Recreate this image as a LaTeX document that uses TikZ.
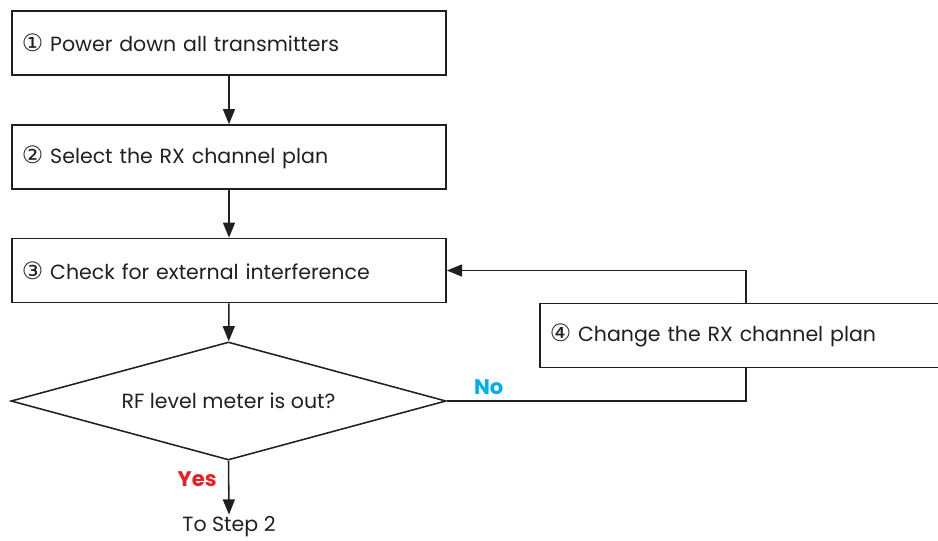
\documentclass[tikz,border=0pt]{standalone}
\usepackage{fontspec}
\setmainfont{Poppins}
\newfontfamily\circfont{DejaVu Sans}
\usetikzlibrary{shapes.geometric,arrows.meta,positioning}
\definecolor{inkgray}{HTML}{231F20}
\definecolor{noblue}{HTML}{00AEEF}
\definecolor{yesred}{HTML}{ED1C24}
\newcommand{\stepnum}[1]{{\circfont\fontsize{17}{17}\selectfont #1}}

\begin{document}
\begin{tikzpicture}[x=0.025cm, y=-0.025cm, line width=1.1pt, color=inkgray,
  stepbox/.style={draw, rectangle, minimum width=10.85cm, minimum height=1.6cm, text width=10.35cm, align=left, inner xsep=0.25cm, font=\fontsize{14.6}{16}\selectfont},
  decision/.style={draw, diamond, aspect=3.7, minimum width=10.875cm, minimum height=2.95cm, font=\fontsize{14.6}{16}\selectfont},
  answer/.style={font=\fontsize{15}{17}\selectfont\bfseries},
  arr/.style={-{Triangle[length=0.38cm, width=0.3cm]}}
]
  \clip (0,0) rectangle (938,540);

  \node[stepbox] (power)  at (229,43)    {\stepnum{①} Power down all transmitters};
  \node[stepbox] (plan)   at (229,157)   {\stepnum{②} Select the RX channel plan};
  \node[stepbox] (check)  at (229,270.5) {\stepnum{③} Check for external interference};
  \node[decision] (meter) at (228.5,401) {RF level meter is out?};
  \node[stepbox, anchor=west] (change) at (539,335.5) {\stepnum{④} Change the RX channel plan};
  \node[font=\fontsize{14.6}{16}\selectfont, inner sep=1pt] (next) at (229,527) {To Step 2};

  \coordinate (loopup) at (746,270.5);

  \draw[arr] (power) -- (plan);
  \draw[arr] (plan)  -- (check);
  \draw[arr] (check) -- (meter);
  \draw[arr] (meter.south) -- node[pos=0.35, left, inner xsep=8pt, answer, text=yesred] (yes) {Yes} (next.north);
  \draw (meter.east) -| node[pos=0.07, above, inner ysep=4pt, answer, text=noblue] (no) {No} (change.south -| loopup);
  \draw[arr] (change.north -| loopup) |- (check.east);
\end{tikzpicture}
\end{document}
